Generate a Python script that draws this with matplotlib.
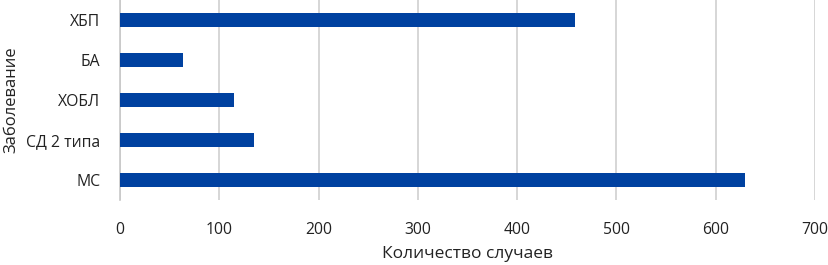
import matplotlib
matplotlib.use("Agg")
import matplotlib.pyplot as plt

diseases = ["ХБП", "БА", "ХОБЛ", "СД 2 типа", "МС"]
cases = [458, 63, 115, 135, 630]
x_ticks = [0, 100, 200, 300, 400, 500, 600, 700]

plt.rcParams['font.family'] = ['Open Sans', 'DejaVu Sans']

fig = plt.figure(figsize=(8.29, 2.65), dpi=100)
ax = fig.add_axes([120 / 829, 1 - 200 / 265, (815 - 120) / 829, 200 / 265])

pos = list(range(len(diseases)))
ax.barh(pos, cases, height=0.35, color="#0041a0", zorder=3)
ax.set_ylim(len(diseases) - 0.5, -0.5)
ax.set_yticks(pos)
ax.set_yticklabels(diseases, fontsize=11.3)
ax.set_xlim(0, 700)
ax.set_xticks(x_ticks)
ax.set_xticklabels([str(t) for t in x_ticks], fontsize=11.3)

ax.grid(axis="x", color="#d0d0d0", linewidth=1.2, zorder=0)
for s in ["top", "right", "bottom"]:
    ax.spines[s].set_visible(False)
ax.spines["left"].set_color("#c8c8c8")
ax.spines["left"].set_linewidth(1.2)
ax.tick_params(axis="y", length=0, pad=14, colors="#222222")
ax.tick_params(axis="x", length=0, pad=16, colors="#222222")

ax.set_xlabel("Количество случаев", fontsize=12.5, color="#222222")
ax.xaxis.set_label_coords(0.5, -0.23)
ax.set_ylabel("Заболевание", fontsize=12, color="#222222")
ax.yaxis.set_label_coords(-101 / 695, 0.5)

fig.savefig("out.png", dpi=100)
